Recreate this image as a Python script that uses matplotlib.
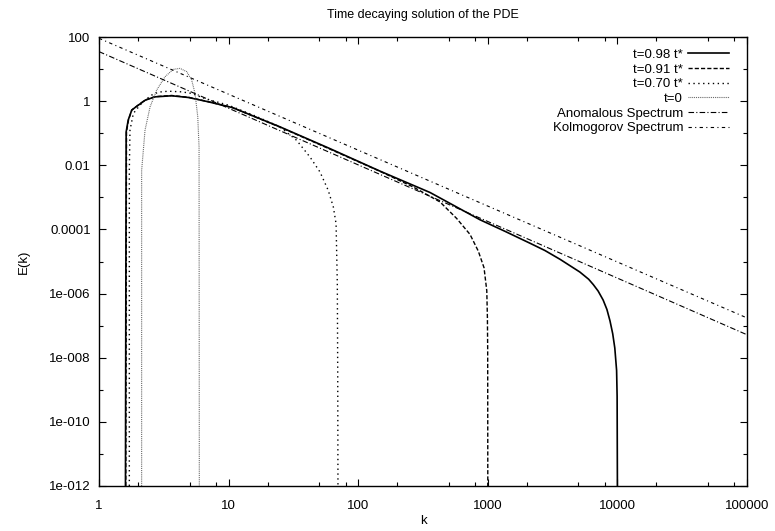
import numpy as np
import matplotlib
matplotlib.use("Agg")
import matplotlib.pyplot as plt
from matplotlib.ticker import FixedLocator, FixedFormatter, NullFormatter

plt.rcParams['font.family'] = ['Liberation Sans', 'DejaVu Sans']

# t=0.98 t*
k_098 = [1.60, 1.62, 1.68, 1.79, 1.90, 2.27, 2.70, 3.64, 4.90, 6.97, 10.7, 24.9, 60.5,
         147, 358, 871, 1360, 2120, 2760, 3610, 5130, 6000, 6520, 7100, 7760, 8300,
         8770, 9200, 9550, 9860, 9950, 10000]
E_098 = [1e-12, 0.11, 0.257, 0.525, 0.635, 1.07, 1.36, 1.47, 1.30, 0.955, 0.63, 0.158,
         0.0331, 0.0066, 0.00142, 2.0e-4, 8.7e-5, 3.7e-5, 2.2e-5, 1.17e-5, 4.7e-6,
         2.8e-6, 1.9e-6, 1.2e-6, 6.3e-7, 3.2e-7, 1.4e-7, 5.6e-8, 2.0e-8, 4.0e-9,
         6.3e-10, 1e-12]

# t=0.91 t*
k_091 = [1.61, 1.63, 1.69, 1.79, 1.90, 2.27, 2.70, 3.64, 4.90, 6.97, 10.7, 24.9, 60.5,
         147, 266, 428, 575, 729, 845, 935, 982, 993, 998, 1000]
E_091 = [1e-12, 0.11, 0.26, 0.53, 0.64, 1.08, 1.38, 1.5, 1.32, 0.96, 0.63, 0.155, 0.032,
         0.0065, 2.1e-3, 7.2e-4, 2.2e-4, 7.0e-5, 2.1e-5, 6.4e-6, 1.23e-6, 1.8e-7,
         1.7e-8, 1e-12]

# t=0.70 t*
k_070 = [1.714, 1.714, 1.734, 1.841, 2.07, 2.265, 2.553, 2.871, 3.428, 4.345, 5.188,
         6.577, 9.954, 15.8, 24.9, 33.5, 42.5, 50.7, 58.7, 64.3, 67.5, 69.0, 69.5, 69.8]
E_070 = [1e-12, 6.9e-3, 0.124, 0.413, 0.75, 1.07, 1.55, 1.91, 2.04, 1.95, 1.74, 1.20,
         0.75, 0.355, 0.158, 0.060, 0.018, 6.2e-3, 1.66e-3, 5.0e-4, 1.5e-4, 2.0e-6,
         3.2e-9, 1e-12]

# t=0
k_0 = [2.133, 2.133, 2.265, 2.477, 2.786, 3.228, 3.741, 4.217, 4.753, 5.188, 5.508,
       5.781, 5.916, 5.943]
E_0 = [1e-12, 6.9e-3, 0.124, 0.66, 2.21, 5.75, 9.8, 10.5, 8.3, 4.57, 1.74, 0.324,
       0.037, 1e-12]

# power law lines (end points)
k_line = [1, 1e5]
E_anom = [35, 5.2e-8]
E_kolm = [91, 1.74e-7]

yticks = [1e2, 1, 1e-2, 1e-4, 1e-6, 1e-8, 1e-10, 1e-12]
ylabels = ['100', '1', '0.01', '0.0001', '1e-006', '1e-008', '1e-010', '1e-012']
xticks = [1, 10, 100, 1000, 10000, 100000]
xlabels = ['1', '10', '100', '1000', '10000', '100000']

fig = plt.figure(figsize=(7.75, 5.31), dpi=100)
ax = fig.add_axes([99 / 775, 1 - 486 / 531, 648 / 775, 449 / 531])

ax.plot(k_098, E_098, color='black', lw=1.2, ls='-', label='t=0.98 t*')
ax.plot(k_091, E_091, color='black', lw=1.0, ls=(0, (3, 1.5)), label='t=0.91 t*')
ax.plot(k_070, E_070, color='black', lw=1.0, ls=(0, (1, 2.5)), label='t=0.70 t*')
ax.plot(k_0, E_0, color='0.35', lw=0.8, ls=(0, (0.8, 0.9)), label='t=0')
ax.plot(k_line, E_anom, color='black', lw=0.8, ls=(0, (5, 2, 1, 2)), label='Anomalous Spectrum')
ax.plot(k_line, E_kolm, color='black', lw=0.8, ls=(0, (3, 3, 1, 3)), label='Kolmogorov Spectrum')

ax.set_xscale('log')
ax.set_yscale('log')
ax.set_xlim(1, 1e5)
ax.set_ylim(1e-12, 1e2)

ax.xaxis.set_major_locator(FixedLocator(xticks))
ax.xaxis.set_major_formatter(FixedFormatter(xlabels))
minor_x = [m * d for d in [1, 10, 100, 1000, 10000] for m in (2, 5, 8)]
ax.xaxis.set_minor_locator(FixedLocator(minor_x))
ax.xaxis.set_minor_formatter(NullFormatter())
ax.yaxis.set_major_locator(FixedLocator(yticks))
ax.yaxis.set_major_formatter(FixedFormatter(ylabels))
ax.yaxis.set_minor_locator(FixedLocator([10.0 ** e for e in range(-11, 2, 2)]))
ax.yaxis.set_minor_formatter(NullFormatter())

ax.tick_params(which='both', direction='in', top=True, right=True, labelsize=9.5, pad=6)
ax.tick_params(axis='x', which='major', pad=10)
ax.tick_params(which='major', length=5, width=0.8)
ax.tick_params(which='minor', length=3, width=0.8)
for s in ax.spines.values():
    s.set_linewidth(1.0)

ax.set_title('Time decaying solution of the PDE', fontsize=9, pad=14)
ax.set_xlabel('k', fontsize=9.5, labelpad=2)
ax.set_ylabel('E(k)', fontsize=9.5, labelpad=14)

ax.legend(loc='upper right', frameon=False, markerfirst=False, fontsize=9.5,
          handlelength=3.1, labelspacing=0.18, handletextpad=0.35,
          borderaxespad=0.5, borderpad=0.4, bbox_to_anchor=(0.99, 1.0))

fig.savefig('out.png', dpi=100)
